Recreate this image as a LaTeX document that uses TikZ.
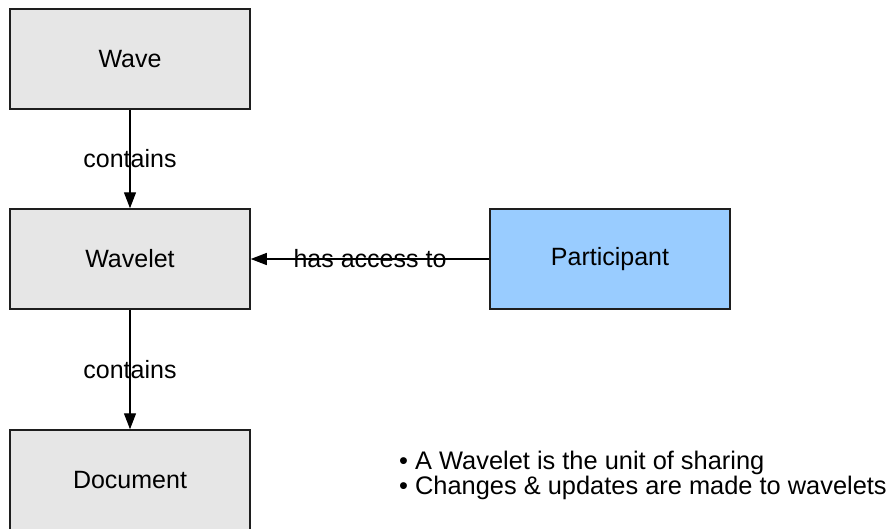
\documentclass[tikz,border=0pt]{standalone}
\usepackage{fontspec}
\setmainfont{Liberation Sans}
\usetikzlibrary{arrows.meta}
\definecolor{boxgray}{HTML}{E6E6E6}
\definecolor{boxblue}{HTML}{99CCFF}
\definecolor{edgeline}{HTML}{1E1E1E}
\begin{document}
\begin{tikzpicture}[x=1pt,y=-1pt,
  entity/.style={draw=edgeline, line width=1.5pt, fill=boxgray,
    minimum width=240pt, minimum height=100pt, inner sep=0pt,
    font=\fontsize{25}{25}\selectfont},
  rel/.style={draw=black, line width=1.3pt,
    -{Triangle[length=16pt,width=12pt]}},
  rellabel/.style={font=\fontsize{25}{25}\selectfont, inner sep=0pt},
  note/.style={anchor=base west, inner sep=0pt, font=\fontsize{25.4}{25.4}\selectfont}]
\useasboundingbox (0,0) rectangle (893,528);
\clip (0,0) rectangle (893,528);
\fill[white] (0,0) rectangle (893,528);

\node[entity] (wave) at (130,59) {Wave};
\node[entity] (wavelet) at (130,259) {Wavelet};
\node[entity] (document) at (130,480) {Document};
\node[entity, fill=boxblue] (participant) at (610,259) {Participant};

\draw[rel] (wave.south) -- node[rellabel] {contains} (wavelet.north);
\draw[rel] (wavelet.south) -- node[rellabel] {contains} (document.north);
\draw[rel] (participant.west) -- node[rellabel] {has access to} (wavelet.east);

\node[note] (note1) at (399,469) {• A Wavelet is the unit of sharing};
\node[note] (note2) at (399,494) {• Changes \& updates are made to wavelets};
\end{tikzpicture}
\end{document}
